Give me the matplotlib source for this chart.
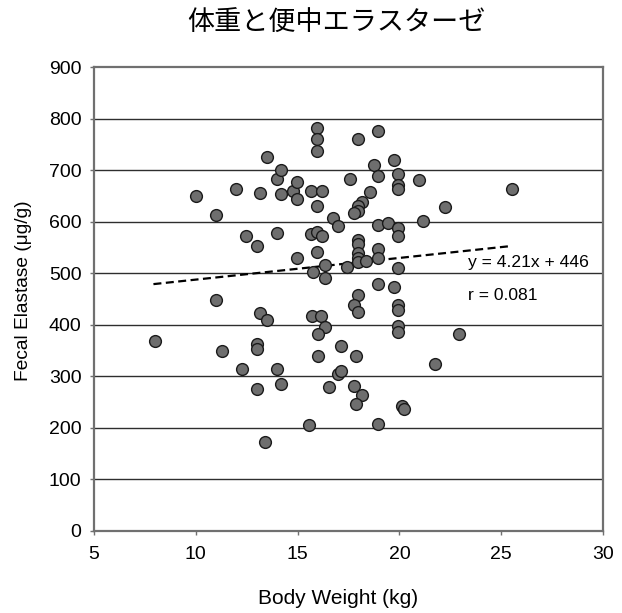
import matplotlib
matplotlib.use("Agg")
import matplotlib.pyplot as plt
import numpy as np

plt.rcParams['font.family'] = ['Liberation Sans', 'Noto Sans CJK JP', 'DejaVu Sans']

title = "体重と便中エラスターゼ"
x_label = "Body Weight (kg)"
y_label = "Fecal Elastase (μg/g)"

body_weight = [
    10.00, 10.97, 11.98, 12.49, 12.99, 13.17, 13.48, 13.97, 13.97, 14.17,
    14.17, 14.76, 14.95, 14.95, 14.95, 15.67, 16.19, 15.96, 15.96, 15.96,
    15.96, 15.67, 15.96, 16.19, 15.96, 16.76, 16.96, 16.37, 15.77, 16.37,
    17.45, 17.55, 10.97,
    17.95, 18.95, 18.77, 18.95, 19.75, 19.94, 19.94, 19.94, 20.96, 25.52,
    22.23, 18.54, 18.15, 17.95, 17.95, 17.76, 18.95, 19.44, 19.94, 19.94,
    21.15, 17.95, 17.95, 17.95, 17.95, 17.95, 18.35, 18.95, 18.95, 19.94,
    18.95, 19.75, 17.95, 17.76, 17.95, 19.94, 19.94, 19.94, 19.94, 15.69,
    16.17, 16.36, 15.98, 22.92, 15.98, 17.15, 17.85, 21.74, 16.96, 17.15,
    16.55, 17.76, 18.15, 17.85, 20.14, 20.24, 15.57, 18.95,
    8.02, 11.30, 13.17, 13.48, 12.99, 12.99, 12.28, 13.97, 14.17, 12.99,
    13.38,
]
elastase = [
    651, 613, 665, 573, 553, 657, 726, 578, 684, 701,
    654, 661, 678, 645, 531, 660, 660, 783, 761, 738,
    632, 577, 581, 573, 542, 607, 592, 517, 502, 492,
    513, 683, 448,
    762, 777, 711, 690, 720, 694, 672, 665, 681, 664,
    630, 658, 639, 632, 621, 617, 595, 599, 589, 573,
    602, 565, 557, 539, 531, 522, 524, 548, 531, 511,
    480, 473, 458, 439, 425, 439, 430, 398, 386, 418,
    418, 396, 383, 383, 340, 359, 340, 324, 305, 311,
    280, 282, 264, 247, 243, 236, 205, 208,
    368, 350, 423, 410, 363, 353, 315, 315, 285, 275,
    172,
]

slope = 4.21
intercept = 446
r_value = 0.081
x_ticks = [5, 10, 15, 20, 25, 30]
y_ticks = [0, 100, 200, 300, 400, 500, 600, 700, 800, 900]

fig = plt.figure(figsize=(6.22, 6.13), dpi=100)
ax = fig.add_axes([0.1511, 0.1338, 0.8184, 0.7561])

ax.set_xlim(5, 30)
ax.set_ylim(0, 900)
ax.set_xticks(x_ticks)
ax.set_yticks(y_ticks)
ax.tick_params(axis='both', labelsize=14, length=3, width=1, color='#707070', direction='out')
ax.tick_params(axis='y', pad=6)
ax.tick_params(axis='x', pad=8)

for v in y_ticks[1:-1]:
    ax.axhline(v, color='#2e2e2e', lw=1.0, zorder=1)

for s in ax.spines.values():
    s.set_color('#707070')
    s.set_linewidth(1.6)

ax.scatter(body_weight, elastase, s=72, facecolor='#6e6e6e', edgecolor='#1a1a1a',
           linewidth=1.0, zorder=3)

xs = np.array([min(body_weight) - 0.1, max(body_weight)])
ax.plot(xs, slope * xs + intercept, color='black', lw=1.6, ls=(0, (3.6, 2.0)), zorder=2)

ax.text(23.35, 522, f"y = {slope}x + {intercept}", fontsize=12.6, va='center', ha='left')
ax.text(23.35, 457, f"r = {r_value}", fontsize=12.6, va='center', ha='left')

ax.set_xlabel(x_label, fontsize=15)
ax.xaxis.set_label_coords(0.479, -0.125)
ax.set_ylabel(y_label, fontsize=13.8)
ax.yaxis.set_label_coords(-0.122, 0.518)

fig.text(0.541, 0.962, title, fontsize=19.5, ha='center', va='center',
         family=['Noto Sans CJK JP', 'DejaVu Sans'])

fig.savefig("out.png", dpi=100)
